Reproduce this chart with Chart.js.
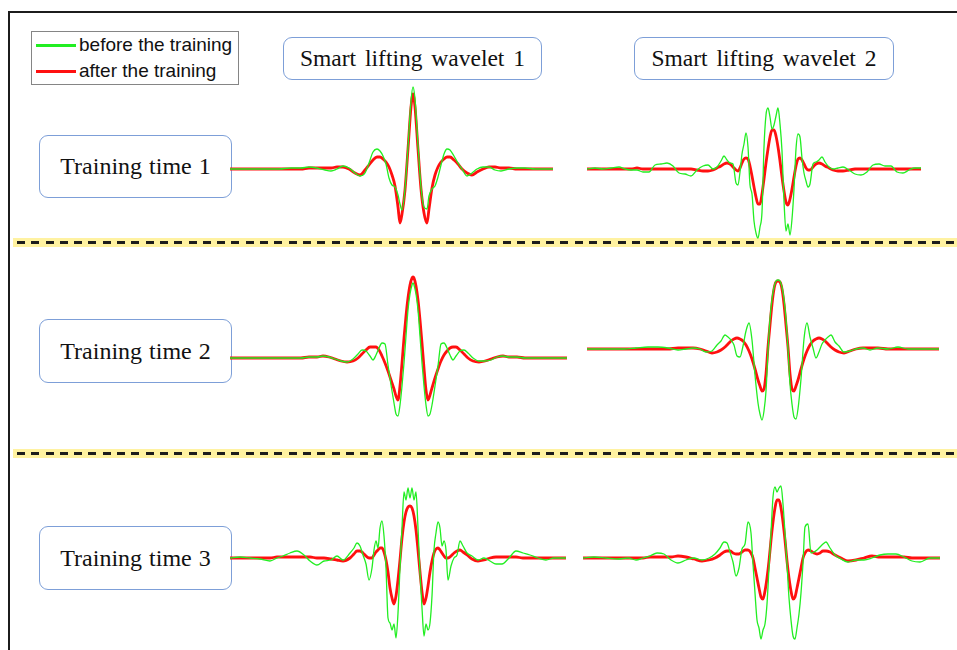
<!DOCTYPE html>
<html>
<head>
<meta charset="utf-8">
<script src="https://cdn.jsdelivr.net/npm/chart.js@4.4.1/dist/chart.umd.min.js"></script>
<style>
  html, body { margin: 0; padding: 0; background: #fff; }
  body { width: 957px; height: 650px; position: relative; overflow: hidden; }
  .frame { position: absolute; left: 8px; top: 11px; width: 980px; height: 680px;
           border-left: 2px solid #1c1c1c; border-top: 2px solid #1c1c1c; }
  .box { position: absolute; box-sizing: border-box; border: 1.5px solid #7d9fd8; border-radius: 9px;
         background: #fff; display: flex; align-items: center; justify-content: center;
         font-family: "Liberation Serif", "Times New Roman", serif; color: #111; white-space: pre; }
  .title { font-size: 23.5px; word-spacing: 3px; }
  .row { font-size: 24px; word-spacing: 1px; }
  .sep { position: absolute; left: 13px; width: 944px; height: 9px; background: rgba(255, 238, 130, 0.75); }
  .sep::after { content: ""; position: absolute; left: 4px; right: 0; top: 3px; height: 3px;
                background: repeating-linear-gradient(90deg, #1c1c1c 0 8px, transparent 8px 14.3px); }
  .legend { position: absolute; left: 31px; top: 31px; width: 208px; height: 54px; box-sizing: border-box;
            border: 1.5px solid #858585; background: #fff;
            font-family: "Liberation Sans", Arial, sans-serif; font-size: 19px; color: #111; }
  .legend .item { position: absolute; left: 4px; height: 20px; display: flex; align-items: center; }
  .legend .swatch { width: 40px; height: 3px; margin-right: 3px; }
  canvas { position: absolute; }
</style>
</head>
<body>
<div class="frame"></div>

<script>
// Sample positions (t) and amplitudes of the learned wavelets, before and after training.
// Training time 1, wavelet 1
const t11 = [-183,-170,-158,-146,-134,-122,-112,-104,-96,-88,-82,-76,-70,-64,-58,-53,-48,-44,-40,-36,-33,-30,-27,-24,-21,-18,-15,-13,-11,-8,-5,-2,0,2,5,8,11,14,16,19,22,25,28,31,34,37,41,45,49,54,59,64,70,76,82,88,96,104,112,122,132,140];
const before11 = [0,0,0,0,0,0.01,0.01,0.02,0.01,-0.01,
  -0.02,0,0.03,0.01,-0.04,-0.07,-0.04,0.06,0.17,0.2,
  0.18,0.13,0.05,-0.09,-0.16,-0.18,-0.26,-0.35,-0.41,-0.2,
  0.22,0.68,0.82,0.7,0.24,-0.18,-0.38,-0.4,-0.27,-0.2,
  -0.17,-0.08,0.04,0.15,0.2,0.19,0.13,0.06,0,-0.07,
  -0.04,0,0.02,0.02,-0.01,-0.02,0,0.01,0.01,0,
  0,0];
const after11 = [0,0,0,0,0,0,0,0.01,0.01,0.01,
  0.01,0.02,0.02,0,-0.04,-0.06,-0.01,0.04,0.09,0.12,
  0.12,0.1,0.07,0.02,-0.06,-0.17,-0.38,-0.54,-0.45,-0.21,
  0.2,0.62,0.75,0.62,0.2,-0.2,-0.44,-0.54,-0.4,-0.19,
  -0.06,0.02,0.07,0.1,0.12,0.12,0.09,0.05,0,-0.04,
  -0.06,-0.03,0,0.02,0.02,0.01,0.01,0,0,0,
  0,0];

// Training time 1, wavelet 2
const t12 = [-186,-178,-170,-162,-154,-148,-142,-136,-130,-124,-118,-112,-106,-100,-94,-88,-82,-76,-70,-65,-60,-56,-52,-49,-46,-43,-40,-37,-35,-33,-31,-29,-27,-25,-23,-21,-19,-17,-15,-13,-11,-9,-7,-5,-3,-1,1,3,5,7,9,11,13,15,17,19,21,23,25,27,29,31,33,35,37,40,43,46,49,52,56,60,65,70,76,82,88,94,100,106,112,118,124,130,136,142,148];
const before12 = [0,0.01,0,0.01,0.02,0,-0.01,-0.01,-0.03,-0.03,
  0.04,0.05,0.06,0.03,-0.04,-0.05,-0.07,-0.01,0.03,0.04,
  0,0.02,0.08,0.13,0.09,0.06,0.05,-0.14,-0.16,-0.03,
  0.15,0.25,0.36,0.22,-0.16,-0.25,-0.52,-0.64,-0.69,-0.58,
  -0.43,0.22,0.54,0.61,0.52,0.4,0.44,0.53,0.61,0.45,
  0.18,-0.32,-0.62,-0.55,-0.66,-0.5,-0.2,0.2,0.35,0.32,
  0.11,-0.04,-0.12,-0.18,-0.15,0.05,0.07,0.09,0.12,0.07,
  0.02,0,0.01,0.02,-0.01,-0.05,-0.06,-0.03,0.04,0.05,
  0.03,0.03,-0.03,-0.04,-0.01,0.01,0.01];
const after12 = [0,0,0,0,0,0,0,0.01,0,0,
  0,0,0,0,0,0,0,-0.01,-0.02,-0.02,
  -0.01,0.01,0.03,0.05,0.06,0.05,0.02,-0.01,-0.02,0.01,
  0.06,0.1,0.11,0.1,0.03,-0.07,-0.18,-0.28,-0.35,-0.35,
  -0.25,-0.1,0.06,0.2,0.32,0.39,0.39,0.33,0.22,0.08,
  -0.08,-0.22,-0.33,-0.36,-0.3,-0.2,-0.08,0.03,0.1,0.11,
  0.09,0.05,0.01,-0.01,-0.01,0.02,0.05,0.06,0.05,0.03,
  0.01,-0.01,-0.02,-0.02,-0.01,0,0,0,0,0,
  0,0,0,0,0,0,0];

// Training time 2, wavelet 1
const t21 = [-183,-170,-158,-146,-134,-122,-112,-104,-96,-90,-84,-78,-72,-66,-60,-55,-51,-47,-43,-40,-37,-34,-31,-28,-25,-22,-19,-17,-15,-13,-11,-9,-7,-5,-3,-1,0,1,3,5,7,9,11,13,15,17,19,22,25,28,31,34,37,40,43,47,51,55,60,66,72,78,84,90,96,104,112,122,134,146,154];
const before21 = [0,0,0,0,0,0,0,0.01,0.01,0.02,
  0.01,-0.01,-0.03,-0.04,-0.01,0.04,0.08,0.07,0.02,-0.02,
  0.03,0.1,0.15,0.14,-0.07,-0.27,-0.45,-0.56,-0.58,-0.47,
  -0.28,-0.05,0.22,0.48,0.64,0.73,0.75,0.73,0.64,0.48,
  0.22,-0.05,-0.28,-0.47,-0.58,-0.56,-0.47,-0.28,-0.08,0.14,
  0.15,0.1,0.03,-0.02,0.02,0.07,0.08,0.05,0,-0.03,
  -0.03,-0.02,0.01,0.02,0.01,0.01,0,0,0,0,
  0];
const after21 = [0,0,0,0,0,0,0,0.01,0.01,0.02,
  0.01,-0.01,-0.03,-0.04,-0.03,0,0.04,0.08,0.11,0.11,
  0.11,0.08,0.02,-0.05,-0.13,-0.22,-0.31,-0.38,-0.42,-0.28,
  -0.05,0.2,0.42,0.6,0.73,0.8,0.81,0.8,0.72,0.58,
  0.38,0.15,-0.1,-0.32,-0.42,-0.37,-0.3,-0.2,-0.11,-0.03,
  0.03,0.07,0.1,0.11,0.11,0.08,0.04,0,-0.03,-0.04,
  -0.03,-0.01,0.01,0.02,0.01,0.01,0,0,0,0,
  0];

// Training time 2, wavelet 2
const t22 = [-191,-178,-166,-154,-142,-130,-120,-110,-100,-92,-85,-78,-72,-66,-61,-57,-53,-50,-47,-44,-41,-38,-35,-32,-29,-26,-23,-20,-18,-16,-14,-12,-10,-8,-6,-4,-2,0,2,4,6,8,10,12,14,16,18,20,23,26,29,32,35,38,41,44,47,50,53,57,61,66,72,78,85,92,100,110,120,130,140,150,161];
const before22 = [0,0,0,0,0.01,0.02,0.02,0.01,-0.01,0,
  0.01,0,-0.03,-0.02,0.04,0.08,0.14,0.12,0.09,0.04,
  -0.07,-0.08,0.03,0.18,0.26,0.09,-0.26,-0.54,-0.65,-0.71,
  -0.62,-0.42,-0.02,0.3,0.5,0.62,0.68,0.69,0.68,0.62,
  0.5,0.3,0,-0.35,-0.55,-0.68,-0.7,-0.6,-0.3,0.1,
  0.26,0.12,0.01,-0.09,-0.03,0.05,0.09,0.12,0.14,0.07,
  0.03,-0.03,-0.02,0,0.01,-0.01,0.01,0,0.02,0,
  0,0,0];
const after22 = [0,0,0,0,0,0,0,0,0.01,0.01,
  0.01,0,-0.02,-0.04,-0.03,-0.01,0.02,0.05,0.08,0.1,
  0.11,0.1,0.08,0.04,-0.02,-0.1,-0.2,-0.31,-0.37,-0.42,
  -0.4,-0.25,0.02,0.24,0.45,0.6,0.67,0.68,0.67,0.6,
  0.45,0.24,0.02,-0.25,-0.4,-0.42,-0.37,-0.31,-0.2,-0.1,
  -0.02,0.04,0.08,0.1,0.11,0.1,0.08,0.05,0.02,-0.01,
  -0.03,-0.04,-0.02,0,0.01,0.01,0.01,0,0,0,
  0,0,0];

// Training time 3, wavelet 1
const t31 = [-180,-170,-160,-150,-140,-133,-127,-120,-113,-106,-100,-93,-86,-79,-73,-67,-60,-56,-53,-50,-47,-44,-41,-38,-36,-34,-32,-30,-28,-26,-24,-22,-20,-18,-16,-14,-12,-10,-8,-6,-4,-2,0,2,4,6,8,10,12,14,16,18,20,22,24,26,28,30,32,34,36,38,41,44,47,50,53,57,62,68,74,80,86,92,99,106,113,120,128,136,144,156];
const before31 = [0,0.01,0,-0.01,-0.03,0,0.02,0.05,0.07,0.03,
  -0.03,-0.07,-0.03,-0.02,0.02,-0.02,0.05,0.1,0.15,0.12,
  0.03,-0.06,-0.22,-0.1,0.08,0.17,0.1,0.3,0.37,0.22,
  -0.1,-0.6,-0.65,-0.72,-0.66,-0.8,-0.55,-0.1,0.3,0.66,
  0.58,0.7,0.6,0.7,0.58,0.66,0.3,-0.15,-0.5,-0.78,
  -0.66,-0.72,-0.65,-0.38,0.08,0.25,0.36,0.3,0.12,0.17,
  0.08,-0.22,-0.08,0,0.03,0.17,0.12,0.05,0.02,-0.02,
  0,-0.03,-0.06,-0.06,0,0.07,0.05,0.03,0,-0.02,
  0,0];
const after31 = [0,0,0,0,0,0.01,0.01,0.01,0.01,0.01,
  0.01,0,0,-0.01,-0.02,-0.03,0,0.04,0.07,0.07,
  0.05,0.02,0,0,0.03,0.06,0.08,0.1,0.1,0.06,
  -0.02,-0.14,-0.3,-0.4,-0.46,-0.38,-0.22,-0.02,0.2,0.36,
  0.46,0.51,0.52,0.5,0.42,0.28,0.08,-0.14,-0.34,-0.46,
  -0.4,-0.28,-0.14,-0.03,0.05,0.09,0.1,0.08,0.05,0.02,
  0,0,0.02,0.05,0.07,0.08,0.06,0.03,-0.01,-0.03,
  -0.02,0,0.01,0.01,0.01,0.01,0,0,0,0,
  0,0];

// Training time 3, wavelet 2
const t32 = [-195,-184,-172,-160,-150,-142,-135,-128,-121,-114,-107,-100,-92,-84,-76,-69,-63,-58,-54,-51,-48,-45,-42,-39,-36,-33,-30,-27,-25,-23,-21,-19,-17,-15,-13,-11,-9,-7,-5,-3,-1,1,3,5,7,9,11,13,15,17,19,21,23,25,27,30,33,36,39,42,45,48,52,57,63,70,78,86,94,102,110,118,126,134,142,152,162];
const before32 = [0,0.01,0,-0.01,0,-0.02,0,0.02,0.05,0.04,
  -0.02,-0.05,-0.02,0,-0.02,0,0.04,0.1,0.16,0.15,
  0.06,-0.04,-0.18,-0.1,0.09,0.14,0.36,0.25,-0.06,-0.35,
  -0.62,-0.7,-0.81,-0.72,-0.66,-0.46,-0.1,0.25,0.61,0.71,
  0.66,0.7,0.72,0.54,0.25,-0.06,-0.4,-0.62,-0.78,-0.81,
  -0.7,-0.56,-0.35,-0.05,0.31,0.34,0.05,0.06,0.08,0.11,
  0.14,0.16,0.1,0.03,-0.01,-0.04,-0.02,-0.02,0,0.03,
  0.04,0.04,0.01,-0.03,-0.04,0,0];
const after32 = [0,0,0,0,0,0,0,0.01,0.01,0.01,
  0.01,0.02,0.01,-0.01,-0.03,-0.02,0,0.03,0.06,0.07,
  0.07,0.05,0.04,0.04,0.06,0.08,0.08,0.05,0,-0.1,
  -0.2,-0.3,-0.39,-0.41,-0.33,-0.2,-0.03,0.18,0.36,0.5,
  0.58,0.58,0.5,0.36,0.18,-0.03,-0.2,-0.33,-0.41,-0.39,
  -0.3,-0.2,-0.1,0,0.05,0.08,0.07,0.05,0.04,0.05,
  0.07,0.07,0.06,0.03,0,-0.03,-0.02,0,0.02,0.01,
  0.01,0.01,0.01,0,0,0,0];

// Text
const seriesLabels = ['before the training', 'after the training'];
const columnTitles = ['Smart lifting wavelet 1', 'Smart lifting wavelet 2'];
const rowTitles = ['Training time 1', 'Training time 2', 'Training time 3'];

// Styles
const seriesColors = ['#22ee22', '#ff1010'];
const seriesWidths = [1.3, 2.8];

// Panel placement: cx = pixel of t = 0, base = pixel of amplitude 0 (1 unit = 100 px)
const panels = [
  { t: t11, before: before11, after: after11, cx: 413, base: 169 },
  { t: t12, before: before12, after: after12, cx: 773, base: 169 },
  { t: t21, before: before21, after: after21, cx: 413, base: 358 },
  { t: t22, before: before22, after: after22, cx: 778, base: 349 },
  { t: t31, before: before31, after: after31, cx: 410, base: 558 },
  { t: t32, before: before32, after: after32, cx: 778, base: 558 }
];
const titleBoxes = [ { l: 283, t: 37, w: 259, h: 43 }, { l: 634, t: 37, w: 260, h: 43 } ];
const rowBoxes = [ { l: 39, t: 135, w: 193, h: 63 }, { l: 39, t: 319, w: 193, h: 64 }, { l: 39, t: 526, w: 193, h: 64 } ];
const separatorTops = [238, 449];

function addDiv(cls, css, text) {
  const d = document.createElement('div');
  d.className = cls;
  Object.assign(d.style, css);
  if (text !== undefined) d.textContent = text;
  document.body.appendChild(d);
  return d;
}

separatorTops.forEach(y => addDiv('sep', { top: y + 'px' }));
columnTitles.forEach((s, i) => {
  const b = titleBoxes[i];
  addDiv('box title', { left: b.l + 'px', top: b.t + 'px', width: b.w + 'px', height: b.h + 'px' }, s);
});
rowTitles.forEach((s, i) => {
  const b = rowBoxes[i];
  addDiv('box row', { left: b.l + 'px', top: b.t + 'px', width: b.w + 'px', height: b.h + 'px' }, s);
});

// Legend
const legend = addDiv('legend', {});
seriesLabels.forEach((lab, i) => {
  const it = document.createElement('div');
  it.className = 'item';
  it.style.top = (i === 0 ? 3 : 29) + 'px';
  const sw = document.createElement('span');
  sw.className = 'swatch';
  sw.style.background = seriesColors[i];
  const tx = document.createElement('span');
  tx.textContent = lab;
  it.appendChild(sw); it.appendChild(tx);
  legend.appendChild(it);
});

// One line chart per panel
panels.forEach(p => {
  const tMin = p.t[0], tMax = p.t[p.t.length - 1];
  const cv = document.createElement('canvas');
  const w = tMax - tMin, h = 200;
  cv.width = w; cv.height = h;
  cv.style.left = (p.cx + tMin) + 'px';
  cv.style.top = (p.base - 100) + 'px';
  cv.style.width = w + 'px'; cv.style.height = h + 'px';
  document.body.appendChild(cv);
  const series = [p.before, p.after];
  new Chart(cv.getContext('2d'), {
    type: 'line',
    data: {
      datasets: series.map((vals, k) => ({
        label: seriesLabels[k],
        data: p.t.map((x, i) => ({ x: x, y: vals[i] })),
        borderColor: seriesColors[k],
        borderWidth: seriesWidths[k],
        pointRadius: 0,
        fill: false,
        cubicInterpolationMode: 'monotone',
        clip: false
      }))
    },
    options: {
      responsive: false,
      animation: false,
      events: [],
      devicePixelRatio: 1,
      layout: { padding: 0 },
      plugins: { legend: { display: false }, tooltip: { enabled: false } },
      scales: {
        x: { type: 'linear', min: tMin, max: tMax, display: false },
        y: { min: -1, max: 1, display: false }
      }
    }
  });
});
</script>
</body>
</html>
